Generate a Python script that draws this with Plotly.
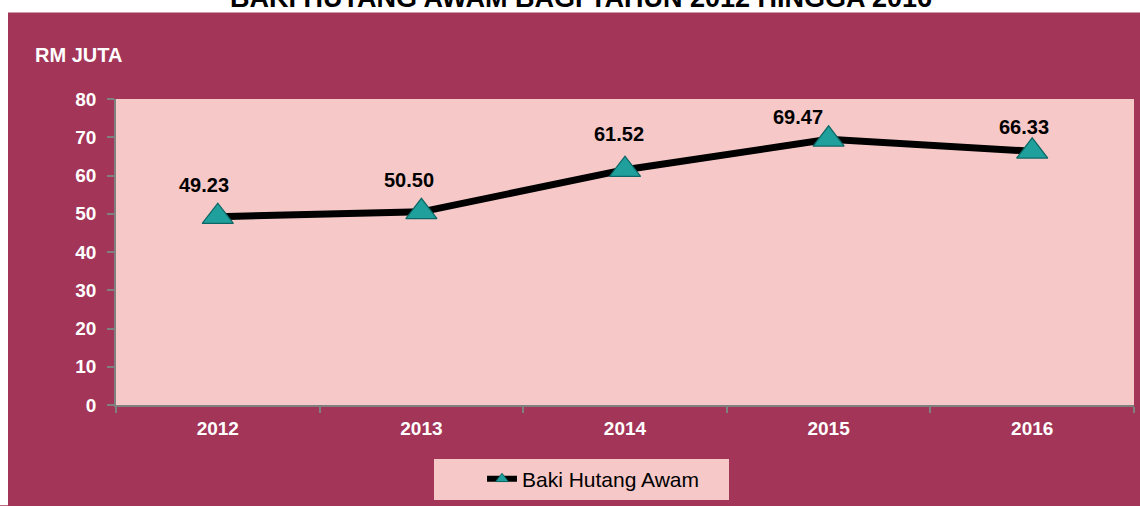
import plotly.graph_objects as go

years = ["2012", "2013", "2014", "2015", "2016"]
values = [49.23, 50.50, 61.52, 69.47, 66.33]
labels = ["49.23", "50.50", "61.52", "69.47", "66.33"]
series_name = "Baki Hutang Awam"
title_text = "BAKI HUTANG AWAM BAGI TAHUN 2012 HINGGA 2016"
y_title = "RM JUTA"
y_ticks = [0, 10, 20, 30, 40, 50, 60, 70, 80]

# label offsets (style)
label_dx = [-14, -12, -6, -31, -8]
label_dy = [32, 32, 36, 22, 24]

W, H = 1140, 506
L, R, T, B = 116, 6, 99, 99
PW, PH = W - L - R, H - T - B

def px_x(p):
    return (p - L) / PW

def px_y(p):
    return (H - B - p) / PH

MAROON = "#A33558"
PINK = "#F7C8C8"
TEAL = "#1FA09C"
FONT = "Liberation Sans, Arial, sans-serif"

fig = go.Figure()
fig.add_trace(go.Scatter(
    x=years, y=values, mode="lines+markers", name=series_name, showlegend=False,
    line=dict(color="black", width=7),
    marker=dict(symbol="triangle-up", size=27, color=TEAL,
                line=dict(color="#0C6664", width=1.2)),
    cliponaxis=False,
))
# legend entry (smaller marker as in reference)
fig.add_trace(go.Scatter(
    x=[None], y=[None], mode="lines+markers", name=series_name, showlegend=True,
    line=dict(color="black", width=6),
    marker=dict(symbol="triangle-up", size=11, color=TEAL, line=dict(color="#0C6664", width=1)),
))

annotations = []
for i, (v, lab, dx, dy) in enumerate(zip(values, labels, label_dx, label_dy)):
    annotations.append(dict(x=i, y=v, xref="x", yref="y", text="<b>" + lab + "</b>", showarrow=False,
                            xshift=dx, yshift=dy,
                            font=dict(family=FONT, size=20, color="black")))
annotations.append(dict(x=px_x(581), y=px_y(-3), xref="paper", yref="paper", text="<b>" + title_text + "</b>",
                        showarrow=False, xanchor="center", yanchor="middle",
                        font=dict(family=FONT, size=27, color="black")))
annotations.append(dict(x=px_x(33), y=px_y(55), xref="paper", yref="paper", text="<b>" + y_title + "</b>",
                        showarrow=False, xanchor="left", yanchor="middle",
                        font=dict(family=FONT, size=20, color="white")))

shapes = [
    dict(type="rect", xref="paper", yref="paper", x0=px_x(-2), x1=px_x(8), y0=px_y(H + 2), y1=px_y(-2),
         fillcolor="white", line=dict(width=0), layer="below"),
    dict(type="rect", xref="paper", yref="paper", x0=px_x(-2), x1=px_x(W + 2), y0=px_y(12), y1=px_y(-2),
         fillcolor="white", line=dict(width=0), layer="below"),
]

fig.update_layout(
    width=W, height=H,
    margin=dict(l=L, r=R, t=T, b=B, pad=0),
    paper_bgcolor=MAROON, plot_bgcolor=PINK,
    font=dict(family=FONT),
    showlegend=True,
    legend=dict(orientation="h", x=px_x(434), y=px_y(461), xanchor="left", yanchor="top",
                bgcolor=PINK, font=dict(family=FONT, size=21, color="black"),
                indentation=48, entrywidth=202, borderwidth=0),
    annotations=annotations,
    shapes=shapes,
    xaxis=dict(type="category", tickson="boundaries", ticks="outside", ticklen=6, tickcolor="#808080",
               tickwidth=1.5, showline=True, linecolor="#808080", linewidth=1.5, showgrid=False,
               tickfont=dict(family=FONT, size=19, color="white", weight="bold"),
               ticklabelstandoff=5, range=[-0.5, 4.5], fixedrange=True),
    yaxis=dict(range=[0, 80], tickvals=y_ticks, ticks="outside", ticklen=7, tickcolor="#808080",
               tickwidth=1.5, showline=True, linecolor="#808080", linewidth=1.5, showgrid=False,
               zeroline=False,
               tickfont=dict(family=FONT, size=19, color="white", weight="bold"),
               ticklabelstandoff=7),
)

fig.write_html("out.html", config={"displayModeBar": False},
               post_script="document.body.style.margin='0px';document.body.style.overflow='hidden';")
